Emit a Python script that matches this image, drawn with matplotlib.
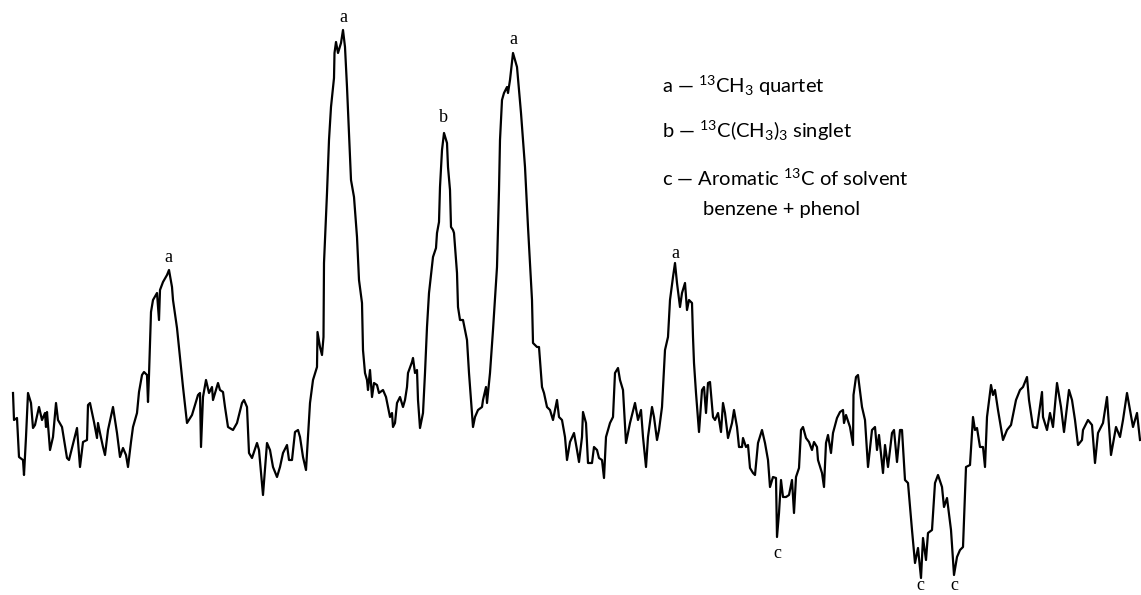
import matplotlib
matplotlib.use("Agg")
import matplotlib.pyplot as plt

# Spectrum trace: channel position and recorder deflection (down = larger)
channel = [13,14,17,19,23,24,26,28,31,33,35,39,42,45,46,47,50,53,56,58,62,67,69,77,80,83,87,88,90,94,97,98,100,103,105,108,113,117,120,123,126,128,131,133,137,139,142,144,147,148,149,151,153,157,159,160,163,167,169,172,173,177,180,183,187,192,198,200,201,203,206,209,212,213,218,220,223,225,228,233,237,242,244,247,249,252,257,259,263,267,270,273,277,280,283,287,289,292,295,298,300,303,306,308,310,313,317,317.5,320,322,323.5,324,325,327,329,331,333,334,334.5,336,338,341,343,345,347,349,351,354,357,359,362,363,365,367,368,370,372,374,377,379,383,386,388,390,392,393,395,397,400,403,405,407,408,412,413,415,417,418,420,423,425,427,429,433,436,437,439,440,442,444,447,448,450,451,453,454,457,458,460,463,467,469,473,475,478,482,483,486,487,490,493,497,499,500,502,504,507,508,510,513,517,521,525,528,532,533,537,539,542,544,547,550,553,557,559,562,565,567,570,574,577,579,582,583,586,588,592,594,597,599,602,604,606,610,613,615,618,620,623,626,630,635,638,641,643,646,648,652,654,657,659,662,665,668,670,673,675,677,680,682,685,687,689,692,693,694,696,699,702,704,706,708,710,713,715,718,721,723,725,728,732,734,737,739,742,743,746,748,750,753,755,758,762,765,768,770,773,776,777,779,781,783,786,789,792,794,796,799,801,803,806,809,812,814,817,818,822,824,826,828,831,833,837,840,843,844,846,850,853,853.5,856,858,862,865,868,872,875,877,879,883,885,888,892,894,897,900,902,905,908,912,915,918,921,923,926,928,932,935,938,942,944,947,951,954,957,960,963,966,970,973,975,977,980,983,985,987,991,993,995,998,1003,1007,1011,1016,1020,1023,1027,1029,1033,1037,1042,1043,1047,1050,1053,1057,1061,1064,1069,1072,1075,1078,1082,1083,1088,1092,1095,1098,1103,1107,1111,1116,1120,1123,1127,1130,1133,1137,1140]
deflection = [393,420,418,457,460,475,437,393,403,428,425,407,420,413,427,412,450,437,403,420,427,458,460,428,467,442,440,405,403,422,438,423,433,447,455,430,407,433,457,448,455,467,442,427,413,392,375,372,375,402,375,312,300,293,320,290,282,275,270,287,300,328,357,387,423,415,395,393,447,397,380,393,387,400,383,390,392,407,427,430,423,403,400,407,453,458,443,450,495,443,450,467,477,467,453,445,460,460,432,430,437,457,470,437,403,380,367,332,347,355,337,263,240,193,140,107,87,78,53,42,53,43,30,47,87,133,180,197,237,280,303,350,373,380,390,370,397,383,385,393,390,397,407,417,413,427,423,403,397,407,400,387,373,362,358,373,370,400,428,413,373,327,293,257,248,233,222,187,150,133,143,167,190,227,230,233,273,307,320,320,340,373,427,417,410,407,400,387,403,373,330,267,190,140,100,93,87,93,80,53,67,113,167,227,300,343,347,347,387,393,407,410,420,400,417,420,437,460,442,433,450,462,437,412,423,463,463,447,450,458,460,478,437,423,417,373,368,380,390,443,423,403,420,410,437,467,437,407,417,440,430,407,350,337,300,277,263,283,307,293,283,310,300,303,337,363,393,432,390,387,413,383,382,417,420,413,432,403,413,438,423,410,427,447,447,438,447,445,468,473,475,443,430,443,460,487,477,478,537,513,480,497,497,495,480,513,477,468,430,427,438,442,450,442,447,460,473,487,443,435,453,433,418,412,410,423,415,427,445,395,377,375,407,420,467,430,427,450,435,473,445,467,433,430,462,430,430,480,483,530,563,548,578,538,560,533,530,483,475,487,507,498,530,575,557,550,547,467,465,417,430,428,447,447,467,417,385,395,390,410,440,430,425,400,390,387,377,400,427,428,392,417,430,413,427,383,407,432,390,400,420,445,440,430,420,425,463,433,423,397,455,427,437,420,393,410,427,413,440]

# Peak labels
peak_labels = ["a", "a", "b", "a", "a", "c", "c", "c"]
label_x = [168, 343, 443, 513, 675, 777, 920, 954]
label_y = [257, 18, 118, 40, 253, 553, 585, 585]

legend_lines = [
    r"a — $^{13}$CH$_3$ quartet",
    r"b — $^{13}$C(CH$_3$)$_3$ singlet",
    r"c — Aromatic $^{13}$C of solvent",
    "benzene + phenol",
]

plt.rcParams["mathtext.fontset"] = "custom"
plt.rcParams["mathtext.rm"] = "Lato"
plt.rcParams["mathtext.it"] = "Lato"
plt.rcParams["mathtext.default"] = "rm"

fig = plt.figure(figsize=(11.41, 5.95), dpi=100)
ax = fig.add_axes([0, 0, 1, 1])
ax.plot(channel, deflection, color="black", lw=1.6, solid_joinstyle="round")
ax.set_xlim(0, 1141)
ax.set_ylim(595, 0)
ax.axis("off")

for t, x, y in zip(peak_labels, label_x, label_y):
    ax.text(x, y, t, ha="center", va="center", fontsize=13,
            family="Liberation Serif")

leg_x = [662, 662, 662, 703]
leg_y = [86, 131, 178, 209]
for t, x, y in zip(legend_lines, leg_x, leg_y):
    ax.text(x, y, t, ha="left", va="center", fontsize=14.5, family="Lato")

fig.savefig("out.png", dpi=100)
